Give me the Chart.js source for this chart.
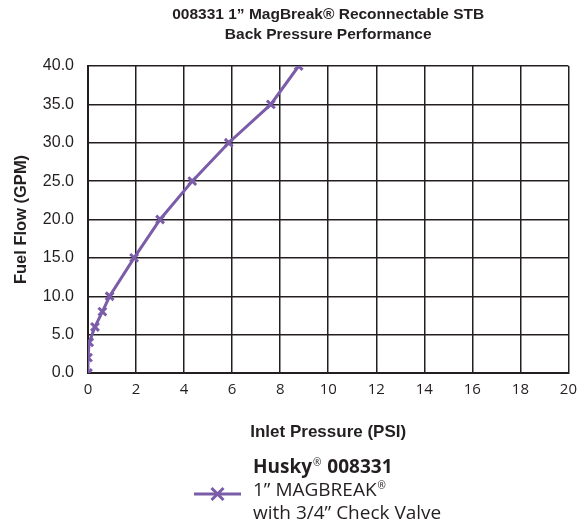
<!DOCTYPE html>
<html lang="en">
<head>
    <meta charset="UTF-8">
    <title>Back Pressure Performance</title>
    <style>
        html, body { margin: 0; padding: 0; background: #fff; }
        #chart-container { width: 585px; height: 529px; }
    </style>
</head>
<body>
    <div id="chart-container">
        <canvas id="pressure-chart"></canvas>
    </div>

    <script src="https://cdn.jsdelivr.net/npm/chart.js"></script>

    <script>
        // values
        const inletPressure = [0, 0, 0.05, 0.29, 0.6, 0.9, 1.92, 3.0, 4.34, 5.86, 7.61, 8.77];
        const fuelFlow = [0, 2, 4, 6, 8, 10, 15, 20, 25, 30, 35, 40];
        const titleLines = ['008331 1\u201D MagBreak\u00AE Reconnectable STB', 'Back Pressure Performance'];
        const legendLines = ['Husky\u00AE 008331', '1\u201D MAGBREAK\u00AE', 'with 3/4\u201D Check Valve'];
        const xTitle = 'Inlet Pressure (PSI)';
        const yTitle = 'Fuel Flow (GPM)';

        const purple = '#7b5ca8';
        const ink = '#231f20';
        const arial = "'Liberation Sans', Arial, sans-serif";

        // draws text with the ® sign small and raised
        function drawSup(ctx, text, x, y, size, weight) {
            const parts = text.split('\u00AE');
            parts.forEach((part, i) => {
                ctx.font = weight + ' ' + size + "px 'Open Sans', sans-serif";
                ctx.fillText(part, x, y);
                x += ctx.measureText(part).width;
                if (i < parts.length - 1) {
                    ctx.font = 'normal ' + Math.round(size * 0.5) + "px 'Open Sans', sans-serif";
                    ctx.fillText('\u00AE', x + 1, y - size * 0.28);
                    x += ctx.measureText('\u00AE').width + 2;
                }
            });
        }

        // legend with multi line text, drawn below the axis title
        const legendPlugin = {
            id: 'bottomLegend',
            afterDraw(chart) {
                const ctx = chart.ctx;
                const x0 = 194, x1 = 241, ly = 494;
                ctx.save();
                ctx.strokeStyle = purple;
                ctx.lineWidth = 3;
                ctx.beginPath();
                ctx.moveTo(x0, ly);
                ctx.lineTo(x1, ly);
                ctx.stroke();
                const mx = (x0 + x1) / 2, r = 6;
                ctx.beginPath();
                ctx.moveTo(mx - r, ly - r); ctx.lineTo(mx + r, ly + r);
                ctx.moveTo(mx - r, ly + r); ctx.lineTo(mx + r, ly - r);
                ctx.stroke();

                ctx.fillStyle = ink;
                ctx.textBaseline = 'middle';
                ctx.textAlign = 'left';
                legendLines.forEach((line, i) => {
                    drawSup(ctx, line, 253, 468 + i * 23, 19, i === 0 ? 'bold' : 'normal');
                });
                ctx.restore();
            }
        };

        const ctx = document.getElementById('pressure-chart').getContext('2d');
        const chart = new Chart(ctx, {
            type: 'line',
            data: {
                datasets: [{
                    data: inletPressure.map((p, i) => ({ x: p, y: fuelFlow[i] })),
                    borderColor: purple,
                    backgroundColor: purple,
                    borderWidth: 3,
                    pointStyle: 'crossRot',
                    pointRadius: 5.5,
                    pointBorderWidth: 3,
                    tension: 0,
                    fill: false
                }]
            },
            options: {
                responsive: true,
                maintainAspectRatio: false,
                animation: false,
                layout: { padding: { left: 12, right: 16, top: 0, bottom: 86 } },
                plugins: {
                    legend: { display: false },
                    tooltip: { enabled: false },
                    title: {
                        display: true,
                        fullSize: false,
                        text: titleLines,
                        color: ink,
                        font: { family: arial, size: 15.5, weight: 'bold', lineHeight: '20px' },
                        padding: { top: 5, bottom: 21 }
                    }
                },
                scales: {
                    x: {
                        type: 'linear',
                        min: 0,
                        max: 20,
                        ticks: {
                            stepSize: 2,
                            padding: 8,
                            color: ink,
                            font: { family: "'Open Sans', sans-serif", size: 15 }
                        },
                        grid: { color: ink, lineWidth: 1.5, drawTicks: false },
                        border: { color: ink, width: 2 },
                        title: {
                            display: true,
                            text: xTitle,
                            color: ink,
                            font: { family: arial, size: 17, weight: 'bold' },
                            padding: 0
                        },
                        afterFit(scale) { scale.height = 70; }
                    },
                    y: {
                        min: 0,
                        max: 40,
                        ticks: {
                            stepSize: 5,
                            padding: 14,
                            color: ink,
                            font: { family: arial, size: 16 },
                            callback: (v) => v.toFixed(1)
                        },
                        grid: { color: ink, lineWidth: 1.5, drawTicks: false },
                        border: { color: ink, width: 2 },
                        title: {
                            display: true,
                            text: yTitle,
                            color: ink,
                            font: { family: arial, size: 16.5, weight: 'bold' },
                            padding: 0
                        },
                        afterFit(scale) { scale.width = 76; }
                    }
                }
            },
            plugins: [legendPlugin]
        });
        console.log(chart.chartArea);
    </script>
</body>
</html>
